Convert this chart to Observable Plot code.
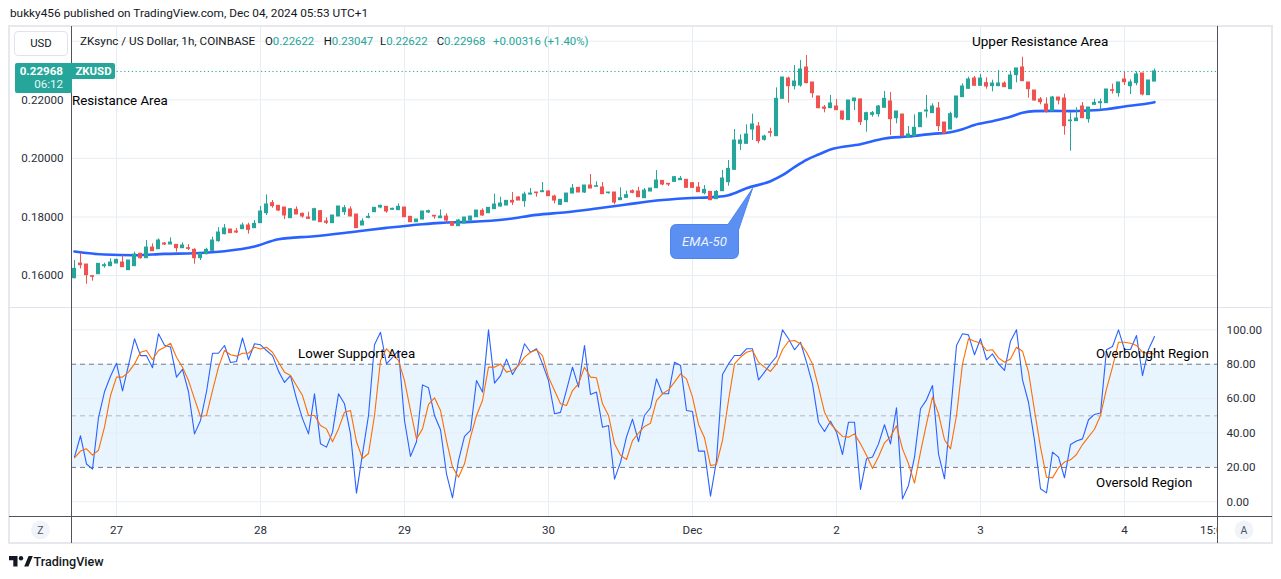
<!DOCTYPE html>
<html><head><meta charset="utf-8">
<script src="https://cdn.jsdelivr.net/npm/d3@7"></script>
<script src="https://cdn.jsdelivr.net/npm/@observablehq/plot@0.6"></script>
<style>
html,body{margin:0;padding:0;background:#fff;}
#root{position:relative;width:1281px;height:579px;overflow:hidden;font-family:Roboto,"Open Sans",sans-serif;color:#131722;}
.abs{position:absolute;white-space:nowrap;line-height:1;}
.pane{position:absolute;left:0;}
.line{position:absolute;}
</style></head><body><div id="root"></div>
<script>
// ---------------- DATA ----------------
// hourly candles, index 0 = Nov 26 17:00 (UTC+1) ... index 180 = Dec 4 05:00
const opens = [0.15911,0.16412,0.16378,0.15980,0.16048,0.16321,0.16321,0.16412,0.16446,0.16185,
 0.16321,0.16742,0.16594,0.16958,0.16901,0.17095,0.17061,0.17049,0.16936,0.16936,
 0.16879,0.16594,0.16731,0.16845,0.17175,0.17414,0.17573,0.17505,0.17584,0.17709,
 0.17618,0.17789,0.18131,0.18472,0.18381,0.18324,0.17960,0.18245,0.18108,0.17983,
 0.17880,0.18199,0.17846,0.17789,0.18017,0.18165,0.18256,0.18085,0.17710,0.17971,
 0.18165,0.18324,0.18347,0.18245,0.18233,0.18324,0.18006,0.17823,0.17914,0.18153,
 0.18040,0.17959,0.18016,0.17811,0.17686,0.17777,0.17880,0.17993,0.18210,0.18130,
 0.18267,0.18358,0.18392,0.18551,0.18665,0.18540,0.18767,0.18836,0.18847,0.18870,
 0.18699,0.18415,0.18506,0.18801,0.18995,0.18836,0.19075,0.19029,0.19006,0.18813,
 0.18836,0.18574,0.18653,0.18881,0.18869,0.18642,0.18869,0.18983,0.19233,0.19131,
 0.19199,0.19256,0.19268,0.19154,0.19006,0.18812,0.18858,0.18608,0.18881,0.19188,
 0.19609,0.20497,0.20497,0.20986,0.21088,0.20633,0.20895,0.20758,0.22033,0.22727,
 0.22465,0.22488,0.23103,0.22591,0.22113,0.21737,0.21714,0.21771,0.21601,0.21305,
 0.21953,0.22010,0.21305,0.21487,0.21509,0.21726,0.21942,0.21373,0.21498,0.20701,
 0.20758,0.21066,0.21601,0.21544,0.21703,0.21225,0.20986,0.21396,0.22090,0.22374,
 0.22727,0.22477,0.22568,0.22465,0.22465,0.22556,0.22363,0.22841,0.23103,0.22591,
 0.22317,0.22010,0.21839,0.21612,0.22078,0.22044,0.21270,0.21270,0.21771,0.21339,
 0.21828,0.21885,0.21885,0.22329,0.22226,0.22693,0.22465,0.22568,0.22898,0.22158,
 0.22622];
const highs = [0.16515,0.16765,0.16378,0.15991,0.16401,0.16424,0.16571,0.16560,0.16685,0.16515,
 0.16799,0.16765,0.17197,0.17084,0.17254,0.17129,0.17288,0.17049,0.17118,0.17061,
 0.16913,0.16765,0.16936,0.17311,0.17641,0.17744,0.17573,0.17607,0.17789,0.17789,
 0.17880,0.18358,0.18757,0.18563,0.18381,0.18324,0.18290,0.18347,0.18131,0.18165,
 0.18301,0.18222,0.17971,0.18051,0.18358,0.18392,0.18347,0.18085,0.17937,0.18119,
 0.18313,0.18404,0.18347,0.18301,0.18449,0.18324,0.18006,0.17914,0.18188,0.18233,
 0.18040,0.18244,0.18107,0.17811,0.17914,0.17982,0.18016,0.18221,0.18278,0.18312,
 0.18779,0.18676,0.18551,0.18836,0.18699,0.18847,0.18972,0.18836,0.19177,0.18904,
 0.18745,0.18585,0.18801,0.19109,0.18995,0.19075,0.19450,0.19200,0.19177,0.18836,
 0.18836,0.18995,0.18881,0.18926,0.19017,0.18972,0.18972,0.19586,0.19233,0.19131,
 0.19381,0.19381,0.19268,0.19177,0.19177,0.19074,0.18858,0.18903,0.19586,0.19928,
 0.20986,0.20804,0.21145,0.21509,0.21225,0.20793,0.21032,0.22408,0.22761,0.22773,
 0.23171,0.23342,0.23512,0.22591,0.22113,0.21805,0.22147,0.22010,0.21601,0.21976,
 0.22044,0.22033,0.21578,0.21601,0.21805,0.22283,0.22249,0.21601,0.21498,0.21088,
 0.21487,0.21544,0.22147,0.21862,0.21908,0.21225,0.21578,0.22113,0.22545,0.22773,
 0.22795,0.22864,0.22750,0.22670,0.23000,0.22613,0.22977,0.23069,0.23455,0.22591,
 0.22317,0.22078,0.22067,0.22113,0.22078,0.22192,0.21555,0.21726,0.21908,0.21737,
 0.22022,0.22022,0.22352,0.22534,0.22591,0.22932,0.22682,0.22955,0.22898,0.22659,
 0.23047];
const lows = [0.15889,0.16230,0.15707,0.15809,0.16048,0.16253,0.16321,0.16412,0.16287,0.16185,
 0.16321,0.16560,0.16594,0.16833,0.16901,0.17027,0.17061,0.16799,0.16936,0.16856,
 0.16389,0.16515,0.16708,0.16822,0.17140,0.17391,0.17448,0.17436,0.17584,0.17414,
 0.17618,0.17789,0.18051,0.18301,0.18188,0.17914,0.17960,0.18085,0.17960,0.17926,
 0.17880,0.17823,0.17744,0.17789,0.18017,0.18051,0.18017,0.17619,0.17710,0.17937,
 0.18165,0.18279,0.18131,0.18245,0.18233,0.17994,0.17823,0.17823,0.17914,0.18119,
 0.17926,0.17959,0.17800,0.17698,0.17686,0.17777,0.17823,0.17993,0.18028,0.18130,
 0.18267,0.18335,0.18392,0.18392,0.18562,0.18335,0.18745,0.18676,0.18847,0.18710,
 0.18449,0.18392,0.18506,0.18801,0.18836,0.18801,0.18972,0.19029,0.18779,0.18779,
 0.18415,0.18574,0.18653,0.18790,0.18676,0.18642,0.18869,0.18983,0.19063,0.19040,
 0.19199,0.19256,0.18994,0.18994,0.18847,0.18756,0.18573,0.18608,0.18881,0.19051,
 0.19609,0.20269,0.20497,0.20610,0.20497,0.20588,0.20724,0.20758,0.22033,0.21885,
 0.22340,0.22431,0.22545,0.22056,0.21692,0.21555,0.21714,0.21646,0.21293,0.21305,
 0.21635,0.21123,0.20895,0.21407,0.21407,0.21726,0.20781,0.21179,0.20758,0.20701,
 0.20758,0.21066,0.21373,0.21544,0.20918,0.20849,0.20986,0.21350,0.22090,0.22374,
 0.22477,0.22477,0.22363,0.22272,0.22465,0.22431,0.22363,0.22579,0.22636,0.22056,
 0.21953,0.21828,0.21544,0.21612,0.21828,0.20793,0.20246,0.21270,0.21373,0.21202,
 0.21805,0.21657,0.21885,0.22192,0.22090,0.22488,0.22181,0.22477,0.22135,0.22158,
 0.22622];
const closes = [0.16230,0.16355,0.16014,0.15957,0.16401,0.16355,0.16446,0.16537,0.16287,0.16515,
 0.16719,0.16594,0.16958,0.16833,0.17197,0.17061,0.17129,0.16936,0.17027,0.16913,
 0.16594,0.16742,0.16879,0.17197,0.17470,0.17607,0.17448,0.17470,0.17709,0.17562,
 0.17766,0.18188,0.18427,0.18370,0.18222,0.18051,0.18267,0.18085,0.18017,0.17937,
 0.18267,0.17823,0.17801,0.18051,0.18358,0.18301,0.18017,0.17619,0.17846,0.18006,
 0.18313,0.18381,0.18188,0.18279,0.18347,0.17994,0.17823,0.17914,0.18188,0.18199,
 0.18017,0.18016,0.17880,0.17698,0.17880,0.17982,0.18016,0.18221,0.18050,0.18312,
 0.18426,0.18460,0.18551,0.18494,0.18562,0.18767,0.18801,0.18813,0.18881,0.18710,
 0.18562,0.18585,0.18801,0.18972,0.18836,0.19075,0.18972,0.19052,0.18779,0.18836,
 0.18494,0.18642,0.18744,0.18824,0.18676,0.18903,0.18972,0.19245,0.19108,0.19108,
 0.19359,0.19302,0.18994,0.18994,0.18847,0.18926,0.18573,0.18858,0.19313,0.19643,
 0.20610,0.20610,0.20815,0.21157,0.20588,0.20747,0.20872,0.22033,0.22761,0.22465,
 0.22625,0.23034,0.22568,0.22226,0.21714,0.21692,0.21874,0.21646,0.21327,0.21976,
 0.22044,0.21236,0.21544,0.21544,0.21771,0.22033,0.21339,0.21601,0.20758,0.20815,
 0.21043,0.21544,0.21635,0.21771,0.21100,0.20849,0.21509,0.22113,0.22454,0.22693,
 0.22477,0.22727,0.22454,0.22556,0.22556,0.22431,0.22830,0.23069,0.22636,0.22363,
 0.21976,0.21919,0.21601,0.22078,0.21976,0.21100,0.21293,0.21362,0.21373,0.21737,
 0.21896,0.21919,0.22352,0.22306,0.22591,0.22602,0.22591,0.22864,0.22181,0.22659,
 0.22968];

// EMA-50 read at these candle indices
const emaIdx = [0,5,10,15,20,25,30,34,40,46,52,58,61,66,72,77,82,87,92,97,102,107,109,112,116,118,120,122,124,126,131,135,139,143,146,148,150,153,156,158,160,163,166,169,172,175,178,180];
const emaVal = [0.16822,0.16719,0.16697,0.16742,0.16765,0.16833,0.16992,0.17243,0.17345,0.17482,0.17630,0.17755,0.17800,0.17834,0.17925,0.18073,0.18164,0.18289,0.18425,0.18562,0.18642,0.18687,0.18744,0.18983,0.19222,0.19427,0.19700,0.19950,0.20132,0.20303,0.20485,0.20679,0.20747,0.20838,0.20895,0.20997,0.21140,0.21270,0.21418,0.21555,0.21612,0.21623,0.21612,0.21635,0.21680,0.21771,0.21851,0.21919];

// Stochastic %K and %D, one value per candle
const stochK = [26,38.4,22,19,49,64,73,80.6,64.5,79.5,
 94.8,85,85,78,97.7,91,90,72.5,77,64,
 39.5,47.3,64,86.4,86.4,90.9,81,81.6,95.3,82.6,
 91.9,91.3,88,85,76,69.4,73.4,59.9,48.4,39.5,
 62.8,33.7,31.8,40.5,62.8,57,39.5,5,27.9,50.2,
 91.3,98.6,80.2,84,88,47.3,26.4,34.9,68,66.3,
 50.2,41.9,16.3,2.3,24,38,41.5,70.5,63.8,100,
 69,73.4,83,74,79.8,91.9,87,89,80.2,70.5,
 51.2,52,65,78.3,66.7,90.9,62.4,63.8,43.4,44.4,
 13.2,22.9,37.8,48.1,35,50.2,54.7,71.5,62.8,62.8,
 81.2,79.3,53.1,52.5,29.5,29.5,3.3,24,74,80.2,
 85.1,85.1,89,89,70.9,75.4,80.2,84.5,100,94.8,
 88.4,92.8,81.2,68.6,46.3,40.9,46.9,40.5,27.5,46.3,
 46.3,7.2,25,26,33.7,44.8,33.7,54.7,1.7,9.5,
 26,54.1,59.3,67.6,27.9,13.4,51.2,90.9,97.7,97.1,
 85.5,94.8,82.6,86,80.2,76.4,93.4,100,70.9,57.9,
 35.7,7.6,5.2,28.9,26,14,33.3,35.3,36.6,47.7,
 50.8,51.6,88.4,90.3,100,88.6,88.6,96.7,73.4,88.6,
 96.1];
const stochD = [25.6,29.5,30.8,27.1,30,43.4,61.8,72.5,72.5,75.4,
 80.2,87,88,82.6,88,89.9,92.2,84.1,78.3,70.5,
 59.9,49.6,50.2,64.7,78.3,88,85.5,84.7,86.4,86.4,
 89.9,88.9,89.9,87,81.2,75.4,73.4,67.6,61.8,50.2,
 50.2,44.4,42.4,34.9,42.4,52.1,53.1,34.9,25.2,28.1,
 50.2,82.2,89,85.3,82.2,70.5,53.1,36.6,42.4,56.6,
 60.5,53.1,35.6,20.2,14.3,22.1,37.6,50.2,58.9,78.3,
 78.3,80.2,75.4,76.4,79.2,84.1,87,88.4,85,72.5,
 64.7,57,56,64.7,68.6,78.3,72.5,72.1,57,50.2,
 33.7,27.1,24.6,35.6,40,43.8,45.7,58.9,62.8,65.1,
 69.6,74.4,71.5,60.9,45,37.2,21.1,21.7,35.7,58.9,
 80.2,84.1,87,88,81.2,78.3,75.8,80.2,88.4,93.4,
 93.8,91.9,87,80.2,66.7,52.1,45.3,41.5,38,37.6,
 39.5,33.7,27.1,19.4,26.2,34.3,37.8,44.2,30.8,22.1,
 10.9,28.9,45.3,60.9,51.2,36.1,30.8,50.2,80.2,94.8,
 93.4,92.4,88,88.4,83.7,81.2,83.1,89.9,87.6,75.4,
 53.1,31.8,14.3,13.9,19.8,23.1,24.4,27.5,33.3,37.8,
 42.2,50.2,65.7,78.3,92.8,92.8,92.2,90.9,87,86.4,
 86];

// axes / ticks
const priceGrid = [0.16, 0.18, 0.20, 0.22, 0.24];
const priceLabels = [0.16, 0.18, 0.20, 0.22];
const stochTicks = [0, 20, 40, 60, 80, 100];
const stochGrid = [0, 40, 60, 100];
const stochBand = [20, 80];
const stochMid = [50];
const dayTickIdx = [7, 31, 55, 79, 103, 127, 151, 175];
const timeTickIdx = [7, 31, 55, 79, 103, 127, 151, 175, 190];
const timeTickLabels = ["27", "28", "29", "30", "Dec", "2", "3", "4", "15:00"];

// ---------------- BUILD ----------------
const UP = "#26a69a", DOWN = "#ef5350", GRID = "#e8edf3", FONT = "Roboto, 'Open Sans', sans-serif";
const X_DOMAIN = [-0.5, 190.5];
const candles = opens.map((o, i) => ({i, open: o, high: highs[i], low: lows[i], close: closes[i]}));
const ema = emaIdx.map((i, k) => ({i, v: emaVal[k]}));
const kData = stochK.map((v, i) => ({i, v}));
const dData = stochD.map((v, i) => ({i, v}));
const col = d => d.close >= d.open ? UP : DOWN;
const root = document.getElementById("root");

const common = {width: 1281, marginLeft: 71, marginRight: 64, marginTop: 0, marginBottom: 0,
  x: {domain: X_DOMAIN, axis: null}, color: {type: "identity"},
  style: {background: "transparent", fontFamily: FONT, fontSize: "11.6px", color: "#2a2e39", overflow: "visible"}};

const main = Plot.plot({...common, height: 281,
  y: {domain: [0.149113, 0.245017], axis: null},
  marks: [
    Plot.ruleX(dayTickIdx, {stroke: GRID}),
    Plot.ruleY(priceGrid, {stroke: GRID}),
    Plot.axisY(priceLabels, {anchor: "left", tickSize: 0, tickPadding: 8, tickFormat: d3.format(".5f"), label: null}),
    Plot.ruleY([closes[closes.length - 1]], {stroke: UP, strokeDasharray: "1.2,2.6"}),
    Plot.line(ema, {x: "i", y: "v", stroke: "#2962ff", strokeWidth: 2.6, curve: "monotone-x"}),
    Plot.ruleX(candles, {x: "i", y1: "low", y2: "high", stroke: col}),
    Plot.rect(candles, {x1: d => d.i - 0.34, x2: d => d.i + 0.34, y1: "open", y2: "close", fill: col, insetTop: -0.5, insetBottom: -0.5})
  ]});
main.classList.add("pane"); main.style.top = "26px";
root.appendChild(main);

const stoch = Plot.plot({...common, height: 209,
  y: {domain: [-8.55, 113], axis: null},
  marks: [
    Plot.rect([stochBand], {x1: () => X_DOMAIN[0], x2: () => X_DOMAIN[1], y1: d => d[0], y2: d => d[1], fill: "#2196f3", fillOpacity: 0.1}),
    Plot.ruleX(dayTickIdx, {stroke: GRID}),
    Plot.ruleY(stochGrid, {stroke: GRID}),
    Plot.ruleY(stochBand, {stroke: "#787b86", strokeDasharray: "5,4"}),
    Plot.ruleY(stochMid, {stroke: "#b2b5be", strokeDasharray: "5,4"}),
    Plot.line(kData, {x: "i", y: "v", stroke: "#2962ff", strokeWidth: 1.1}),
    Plot.line(dData, {x: "i", y: "v", stroke: "#ff6d00", strokeWidth: 1.1}),
    Plot.axisY(stochTicks, {anchor: "right", tickSize: 0, tickPadding: 9, tickFormat: d3.format(".2f"), label: null})
  ]});
stoch.classList.add("pane"); stoch.style.top = "307px";
root.appendChild(stoch);

const timeAxis = Plot.plot({...common, height: 27,
  marks: [
    Plot.text(timeTickIdx, {x: d => d, text: (d, k) => timeTickLabels[k], frameAnchor: "middle", clip: true, fill: "#2a2e39", fontSize: 11.6})
  ]});
timeAxis.classList.add("pane"); timeAxis.style.top = "516px";
root.appendChild(timeAxis);

// ---------------- DECORATIONS ----------------
function box(l, t, w, h, css) {
  const d = document.createElement("div"); d.className = "line";
  Object.assign(d.style, {left: l + "px", top: t + "px", width: w + "px", height: h + "px"}, css || {});
  root.appendChild(d); return d;
}
function txt(s, left, cy, o = {}) {
  const d = document.createElement("div"); d.className = "abs";
  d.textContent = s;
  Object.assign(d.style, {left: left + "px", top: cy + "px", transform: o.anchor === "end" ? "translate(-100%,-50%)" : (o.anchor === "middle" ? "translate(-50%,-50%)" : "translateY(-50%)"),
    fontSize: (o.size || 11.3) + "px", color: o.color || "#131722", fontWeight: o.weight || 400, fontStyle: o.style || "normal"});
  root.appendChild(d); return d;
}
// frame
box(8, 25, 1265, 519, {border: "2px solid #e6e8ee", boxSizing: "border-box"});
box(9, 307, 1263, 1, {background: "#e0e3eb"});
box(9, 516, 1263, 1, {background: "#50535e"});
box(71, 26, 1, 517, {background: "#50535e"});
box(1217, 26, 1, 517, {background: "#50535e"});

// title
txt("bukky456 published on TradingView.com, Dec 04, 2024 05:53 UTC+1", 10, 14, {size: 11.8});

// USD button
box(14, 31, 54, 25, {border: "1px solid #e0e3eb", borderRadius: "4px", background: "#fff", boxSizing: "border-box"});
txt("USD", 41, 44, {size: 11.4, anchor: "middle"});

// legend
txt("ZKsync / US Dollar, 1h, COINBASE", 80, 42, {size: 11.7});
const lg = [["O", "0.22622", 265], ["H", "0.23047", 323.7], ["L", "0.22622", 380], ["C", "0.22968", 436.7]];
lg.forEach(([k, v, x]) => {
  const d = txt("", x, 42, {size: 11.4});
  d.innerHTML = `<span style="color:#131722">${k}</span><span style="color:${UP}">${v}</span>`;
});
txt("+0.00316 (+1.40%)", 493, 42, {size: 11.4, color: UP});

// price tag
box(15, 63, 57, 30, {background: UP, borderRadius: "2px 0 0 2px"});
box(72, 63, 43, 16, {background: UP, borderRadius: "0 2px 2px 0"});
txt("0.22968", 63, 71.5, {size: 11.6, color: "#fff", weight: 700, anchor: "end"});
txt("06:12", 63, 85, {size: 11.6, color: "#e6f5f3", anchor: "end"});
txt("ZKUSD", 93.5, 71.5, {size: 11.4, color: "#fff", weight: 700, anchor: "middle"});

// annotations
txt("Resistance Area", 72, 100.5, {size: 13.3, color: "#000"});
txt("Upper Resistance Area", 972, 41.7, {size: 13.5, color: "#000"});
txt("Lower Support Area", 298, 354.3, {size: 13.3, color: "#000"});
txt("Overbought Region", 1096, 354.3, {size: 13.3, color: "#000"});
txt("Oversold Region", 1096, 482.7, {size: 13.3, color: "#000"});

// EMA-50 callout, buttons, footer logo
const call = document.createElement("div"); call.className = "line";
Object.assign(call.style, {left: "0px", top: "0px", width: "1281px", height: "579px", pointerEvents: "none"});
call.innerHTML = `<svg width="1281" height="579" style="position:absolute;left:0;top:0">
<path d="M676.5 224.5 H728 L752.5 188.5 L738.5 230 V252 Q738.5 258.5 732 258.5 H676.5 Q670.5 258.5 670.5 252 V231 Q670.5 224.5 676.5 224.5 Z" fill="#5b8ff2" stroke="#4d83f0" stroke-width="1"/>
<text x="704.5" y="241.5" text-anchor="middle" dominant-baseline="central" fill="#eef3ff" font-family="${FONT}" font-style="italic" font-size="13.2">EMA-50</text>
<circle cx="40.5" cy="530" r="9.5" fill="#f0f3fa"/>
<text x="40.5" y="530.5" text-anchor="middle" dominant-baseline="central" fill="#50535e" font-family="${FONT}" font-size="10.5">Z</text>
<circle cx="1244" cy="530" r="9.5" fill="#f0f3fa"/>
<text x="1244" y="530.5" text-anchor="middle" dominant-baseline="central" fill="#50535e" font-family="${FONT}" font-size="10.5">A</text>
<g transform="translate(9,556)" fill="#131722">
<path d="M0 0 H8.5 V10.5 H4.3 V4.2 H0 Z"/>
<circle cx="12" cy="2.2" r="2.2"/>
<path d="M15.2 10.5 L19.6 0 H23.8 L19.4 10.5 Z"/>
</g>
</svg>`;
root.appendChild(call);
txt("TradingView", 33.5, 561.5, {size: 12.6, weight: 500});
</script></body></html>
